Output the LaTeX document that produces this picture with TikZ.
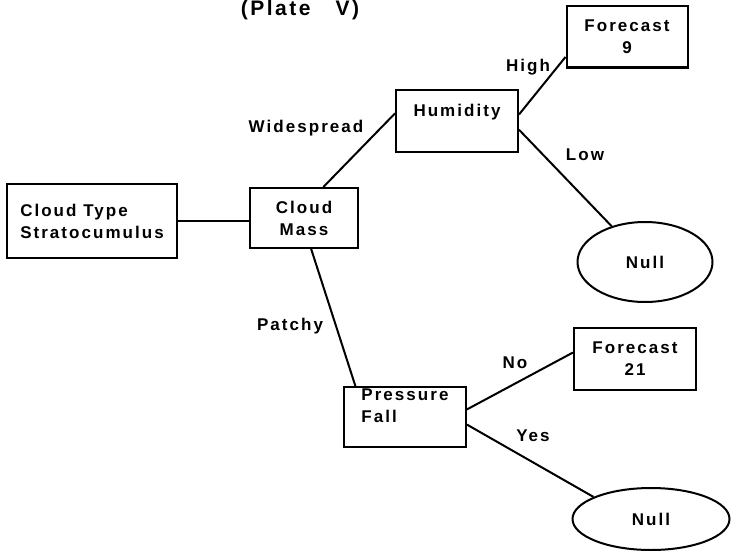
\documentclass[tikz,border=0pt]{standalone}
\usepackage{fontspec}
\setmainfont[LetterSpace=12]{Liberation Sans}
\usepackage{tikz}
\usetikzlibrary{positioning, shapes.geometric}
\newcommand{\tagfont}{\bfseries\fontsize{17}{22}\selectfont}
\tikzstyle{box}=[rectangle, draw, line width=2pt, font=\tagfont, inner sep=0pt]
\tikzstyle{leaf}=[ellipse, draw, line width=2pt, font=\tagfont, inner sep=0pt]
\tikzstyle{branch}=[font=\tagfont]
\tikzstyle{link}=[line width=2pt]

\begin{document}
\begin{tikzpicture}[x=1pt, y=-1pt]
      \useasboundingbox (0,0) rectangle (733,551);
      \node [branch, font=\bfseries\fontsize{21}{24}\selectfont] (title) at (300,10) {(Plate\ \ \ V)};

      \node [box, minimum width=170pt, minimum height=74pt, align=left] (ctype) at (92,221) {Cloud Type\\Stratocumulus};
      \node [box, minimum width=108pt, minimum height=60pt, align=center] (mass) at (304,218) {Cloud\\Mass};
      \node [box, minimum width=122pt, minimum height=62pt, align=center] (humid) at (457,121) {Humidity\\\mbox{}};
      \node [box, minimum width=121pt, minimum height=61pt, align=center] (f9) at (627,37) {Forecast\\9};
      \node [box, minimum width=122pt, minimum height=60pt, align=left] (press) at (405,417) {Pressure\\Fall\\\mbox{}};
      \node [box, minimum width=122pt, minimum height=62pt, align=center] (f21) at (635,359) {Forecast\\21};
      \node [leaf, minimum width=135pt, minimum height=80pt] (null1) at (645,262) {Null};
      \node [leaf, minimum width=157pt, minimum height=62pt] (null2) at (651,519) {Null};

      \node [branch] (l-wide) at (306,128) {Widespread};
      \node [branch] (l-high) at (528,67) {High};
      \node [branch] (l-low) at (585,155) {Low};
      \node [branch] (l-patchy) at (290,326) {Patchy};
      \node [branch] (l-no) at (515,363) {No};
      \node [branch] (l-yes) at (533,436) {Yes};

      \draw [link] (ctype.east) -- (ctype.east -| mass.west);
      \foreach \a/\b in {mass.58/humid.173, humid.6/f9.198, humid.-8/null1.133,
                         mass.-77/press.148, press.7/f21.174, press.-7/null2.159}
        \draw [link] (\a) -- (\b);
    \end{tikzpicture}
\end{document}
